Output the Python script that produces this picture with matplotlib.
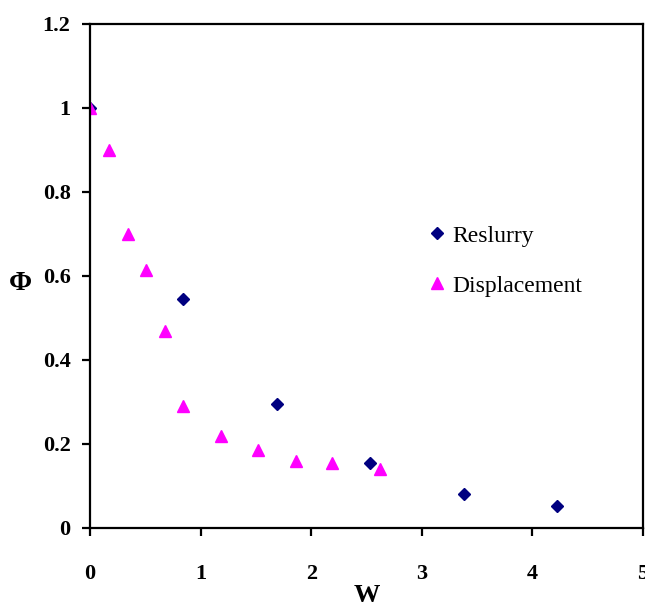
import matplotlib
matplotlib.use("Agg")
import matplotlib.pyplot as plt

# Reslurry series
reslurry_w = [0, 0.845, 1.69, 2.535, 3.38, 4.225]
reslurry_phi = [1.0, 0.545, 0.295, 0.155, 0.082, 0.052]

# Displacement series
disp_w = [0, 0.17, 0.34, 0.51, 0.68, 0.845, 1.18, 1.52, 1.86, 2.19, 2.62]
disp_phi = [1.0, 0.90, 0.70, 0.615, 0.47, 0.29, 0.22, 0.185, 0.16, 0.155, 0.14]

xticks = [0, 1, 2, 3, 4, 5]
yticks = [0, 0.2, 0.4, 0.6, 0.8, 1, 1.2]
ytick_labels = ['0', '0.2', '0.4', '0.6', '0.8', '1', '1.2']

plt.rcParams['font.family'] = ['Liberation Serif', 'DejaVu Serif']

fig = plt.figure(figsize=(6.45, 6.08), dpi=100)
ax = fig.add_axes([0.1395, 0.1316, 0.8575, 0.829])

ax.plot(reslurry_w, reslurry_phi, linestyle='none', marker='D', markersize=6.5,
        color='#000080', label='Reslurry')
ax.plot(disp_w, disp_phi, linestyle='none', marker='^', markersize=9,
        color='#FF00FF', label='Displacement')

ax.set_xlim(0, 5)
ax.set_ylim(0, 1.2)
ax.set_xticks(xticks)
ax.set_yticks(yticks)
ax.set_yticklabels(ytick_labels)

for s in ax.spines.values():
    s.set_linewidth(1.6)
ax.tick_params(axis='x', direction='out', length=6, width=1.6, pad=20, labelsize=16)
ax.tick_params(axis='y', direction='out', length=6, width=1.6, pad=8, labelsize=16)
for lab in ax.get_xticklabels() + ax.get_yticklabels():
    lab.set_fontweight('bold')

ax.set_xlabel('W', fontsize=19, fontweight='bold', labelpad=0)
ax.set_ylabel('Φ', fontsize=20, fontweight='bold', rotation=0, labelpad=10)
ax.yaxis.set_label_coords(-0.125, 0.46)

ax.legend(loc='upper left', bbox_to_anchor=(0.563, 0.643), frameon=False,
          fontsize=17, handletextpad=0.05, labelspacing=1.2, handlelength=1.2)

fig.savefig('out.png', dpi=100, facecolor='white')
